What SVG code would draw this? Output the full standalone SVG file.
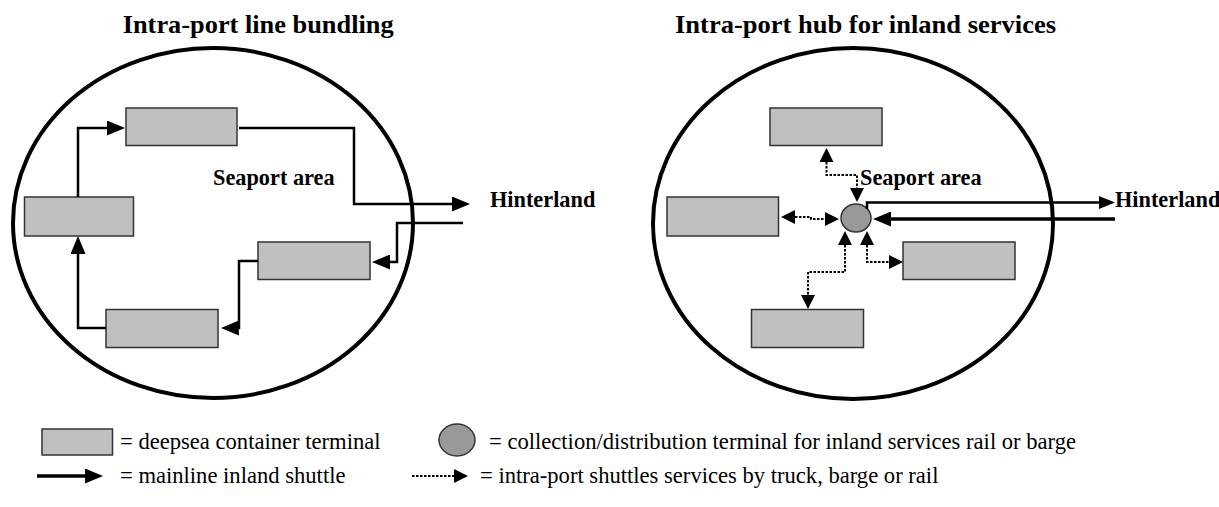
<svg xmlns="http://www.w3.org/2000/svg" width="1219" height="507" viewBox="0 0 1219 507">
<style>
.title{font-family:"Liberation Serif","Times New Roman","DejaVu Serif",serif;font-weight:bold;font-size:24.5px;fill:#000}
.lbl{font-family:"Liberation Serif","Times New Roman","DejaVu Serif",serif;font-weight:bold;font-size:22.3px;fill:#000}
.leg{font-family:"Liberation Serif","Times New Roman","DejaVu Serif",serif;font-weight:normal;font-size:22.6px;fill:#000}
.area{fill:none;stroke:#000;stroke-width:4}
.term{fill:#c0c0c0;stroke:#333;stroke-width:1.5}
.hub{fill:#999;stroke:#333;stroke-width:1.5}
.main{fill:none;stroke:#000;stroke-width:2.5}
.mainb{fill:none;stroke:#000;stroke-width:3.5}
.dot{fill:none;stroke:#000;stroke-width:2;stroke-dasharray:2.5 1.5}
</style>
<defs>
<marker id="ah" markerUnits="userSpaceOnUse" markerWidth="18" markerHeight="15" refX="0" refY="7.5" orient="auto-start-reverse" viewBox="0 0 18 15">
<path d="M0,0 L18,7.5 L0,15 Z" fill="#000" stroke="none"/>
</marker>
<marker id="ahm" markerUnits="userSpaceOnUse" markerWidth="16" markerHeight="13" refX="0" refY="6.5" orient="auto-start-reverse" viewBox="0 0 16 13">
<path d="M0,0 L16,6.5 L0,13 Z" fill="#000" stroke="none"/>
</marker>
<marker id="ahs" markerUnits="userSpaceOnUse" markerWidth="14" markerHeight="14" refX="0" refY="7" orient="auto-start-reverse" viewBox="0 0 14 14">
<path d="M0,0 L14,7 L0,14 Z" fill="#000" stroke="none"/>
</marker>
</defs>

<g id="titles">
<text class="title" x="122.7" y="33" textLength="271" lengthAdjust="spacingAndGlyphs">Intra-port line bundling</text>
<text class="title" x="675" y="33" textLength="381" lengthAdjust="spacingAndGlyphs">Intra-port hub for inland services</text>
</g>

<g id="seaport-left">
<ellipse class="area" cx="213" cy="223" rx="200" ry="175"/>
<text class="lbl" x="213" y="185">Seaport area</text>
</g>
<g id="seaport-right">
<ellipse class="area" cx="853" cy="223.5" rx="200" ry="175.5"/>
<text class="lbl" x="860" y="185">Seaport area</text>
</g>

<g id="hinterland-left"><text class="lbl" x="490" y="207">Hinterland</text></g>
<g id="hinterland-right"><text class="lbl" x="1115" y="207">Hinterland</text></g>

<g id="l-term-top"><rect class="term" x="126" y="108" width="111" height="37.5"/></g>
<g id="l-term-left"><rect class="term" x="24.5" y="197" width="109" height="39"/></g>
<g id="l-term-right"><rect class="term" x="258" y="242" width="112" height="37.5"/></g>
<g id="l-term-bottom"><rect class="term" x="106" y="309.5" width="112" height="38"/></g>

<g id="r-term-top"><rect class="term" x="770" y="108" width="112" height="37.5"/></g>
<g id="r-term-left"><rect class="term" x="667" y="197" width="111.5" height="39"/></g>
<g id="r-term-right"><rect class="term" x="903" y="242" width="112" height="37.5"/></g>
<g id="r-term-bottom"><rect class="term" x="751.5" y="309.5" width="112" height="38"/></g>
<g id="r-hub"><ellipse class="hub" cx="856" cy="218" rx="15" ry="14"/></g>

<g id="connectors">
<path class="main" d="M78,197 V128 H107" marker-end="url(#ah)"/>
<path class="main" d="M239,128 H354 V204 H452" marker-end="url(#ah)"/>
<path class="main" d="M463,223 H397 V262 H390" marker-end="url(#ah)"/>
<path class="main" d="M258,261 H239 V328 H238.9" marker-end="url(#ah)"/>
<path class="main" d="M106,328 H78 V254" marker-end="url(#ah)"/>

<path class="dot" d="M826.5,162 V175 H857 V188" marker-start="url(#ahs)" marker-end="url(#ahs)"/>
<path class="dot" d="M795,217 H811 V219 H825" marker-start="url(#ahs)" marker-end="url(#ahs)"/>
<path class="dot" d="M845,245 V272 H808 V295" marker-start="url(#ahs)" marker-end="url(#ahs)"/>
<path class="dot" d="M867,245 V262 H889" marker-start="url(#ahs)" marker-end="url(#ahs)"/>

<path class="main" d="M867,209 V202.5 H1099" marker-end="url(#ahm)"/>
<path class="mainb" d="M1115,219 H891" marker-end="url(#ah)"/>
</g>

<g id="legend">
<rect class="term" x="42" y="429" width="70.5" height="26"/>
<text class="leg" x="120" y="449">= deepsea container terminal</text>
<ellipse class="hub" cx="457" cy="440" rx="18" ry="16"/>
<text class="leg" x="489" y="449">= collection/distribution terminal for inland services rail or barge</text>
<path class="mainb" d="M37,476 H85" marker-end="url(#ah)"/>
<text class="leg" x="120" y="483">= mainline inland shuttle</text>
<path class="dot" d="M412,476 H454" marker-end="url(#ahs)"/>
<text class="leg" x="480" y="483">= intra-port shuttles services by truck, barge or rail</text>
</g>
</svg>
